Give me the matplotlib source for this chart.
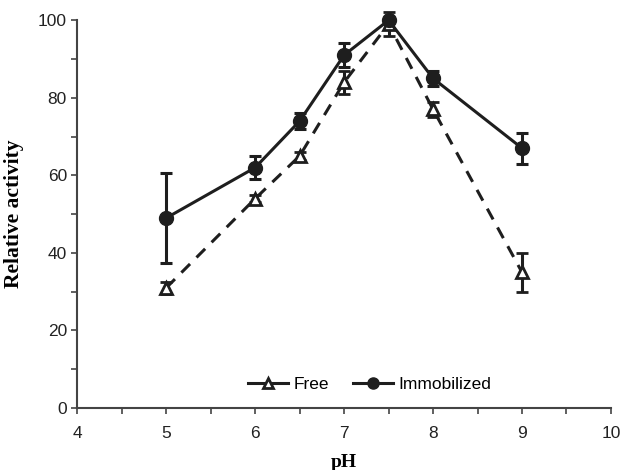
import matplotlib.pyplot as plt
import numpy as np
from matplotlib.lines import Line2D

# pH values and relative activity (%)
ph_free     = [5, 6, 6.5, 7, 7.5, 8, 9]
act_free    = [31, 54, 65, 84, 99, 77, 35]
err_free    = [1.5, 1, 1, 3, 3, 2, 5]

ph_immob    = [5, 6, 6.5, 7, 7.5, 8, 9]
act_immob   = [49, 62, 74, 91, 100, 85, 67]
err_immob   = [11.5, 3, 2, 3, 0.5, 2, 4]

col = '#1e1e1e'

fig = plt.figure(figsize=(6.24, 4.70), dpi=100)
ax = fig.add_axes([0.124, 0.132, 0.855, 0.825])

ax.errorbar(ph_free, act_free, yerr=err_free, color=col, ls=(0, (4, 3)),
            lw=2.2, marker='^', ms=8, mfc='white', mec=col, mew=2,
            ecolor=col, elinewidth=2.2, capsize=4, capthick=2.2,
            zorder=3, clip_on=False)
ax.errorbar(ph_immob, act_immob, yerr=err_immob, color=col, ls='-',
            lw=2.2, marker='o', ms=10, mfc=col, mec=col,
            ecolor=col, elinewidth=2.2, capsize=4, capthick=2.2,
            zorder=4, clip_on=False)

ax.set_xlim(4, 10)
ax.set_ylim(0, 100)
ax.set_xticks(np.arange(4, 10.1, 1))
ax.set_xticks(np.arange(4, 10.1, 0.5), minor=True)
ax.set_yticks(np.arange(0, 101, 20))
ax.set_yticks(np.arange(0, 101, 10), minor=True)

for s in ['top', 'right']:
    ax.spines[s].set_visible(False)
for s in ['left', 'bottom']:
    ax.spines[s].set_color('#444444')
    ax.spines[s].set_linewidth(1.5)

ax.tick_params(which='both', direction='out', length=4, width=1.2,
               color='#444444', labelsize=12.5, labelcolor='#222222')
ax.tick_params(axis='x', which='major', pad=9)
for lab in ax.get_xticklabels() + ax.get_yticklabels():
    lab.set_family('Liberation Sans')

ax.set_xlabel('pH', family='Liberation Serif', fontweight='bold',
              fontsize=14, labelpad=9)
ax.set_ylabel('Relative activity', family='Liberation Serif',
              fontweight='bold', fontsize=15.5, labelpad=10)

handles = [
    Line2D([], [], color=col, lw=2.2, marker='^', ms=7, mfc='white',
           mec=col, mew=2, label='Free'),
    Line2D([], [], color=col, lw=2.2, marker='o', ms=8, mfc=col,
           mec=col, label='Immobilized'),
]
ax.legend(handles=handles, loc='lower center', bbox_to_anchor=(0.548, 0.0),
          ncol=2, frameon=False, handlelength=2.3, handletextpad=0.3,
          columnspacing=1.4, prop={'family': 'Liberation Sans', 'size': 12.5})

plt.savefig('out.png', dpi=100)
